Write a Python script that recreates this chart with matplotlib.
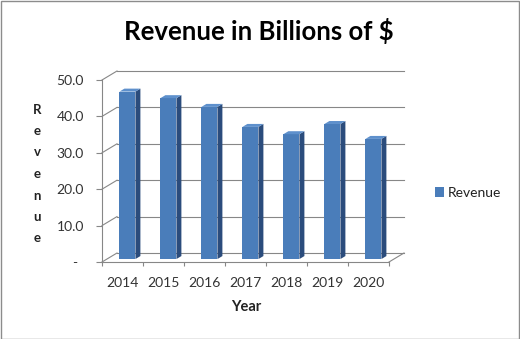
import matplotlib
matplotlib.use('Agg')
import matplotlib.pyplot as plt
import matplotlib.patches as patches
from matplotlib.patches import Polygon
from matplotlib.lines import Line2D

plt.rcParams['font.family'] = ['Lato', 'DejaVu Sans']

# 数据
years = ['2014', '2015', '2016', '2017', '2018', '2019', '2020']
revenue = [46.0, 44.2, 41.8, 36.3, 34.3, 37.1, 33.0]
y_ticks = [0, 10, 20, 30, 40, 50]
y_tick_labels = ['-', '10.0', '20.0', '30.0', '40.0', '50.0']

W, H = 520, 339
fig = plt.figure(figsize=(W / 100, H / 100), dpi=100)
fig.patch.set_facecolor('white')

# 绘图区（前平面）
x0, x1, ytop, ybot = 102, 389, 80, 262
ax = fig.add_axes([x0 / W, 1 - ybot / H, (x1 - x0) / W, (ybot - ytop) / H])
ax.set_xlim(-0.5, len(years) - 0.5)
ax.set_ylim(0, 50)
ax.patch.set_alpha(0)

# 3D 深度偏移（数据单位）
px_x = (x1 - x0) / len(years)
px_y = (ybot - ytop) / 50
DX = 15 / px_x
DY = 9 / px_y
grid_c = '#878787'
lw = 0.8

n = len(years)
for v in y_ticks:
    # 后墙网格线
    ax.add_line(Line2D([-0.5 + DX, n - 0.5 + DX], [v + DY, v + DY], color=grid_c,
                       lw=lw, clip_on=False, zorder=1))
    # 左墙斜线
    ax.add_line(Line2D([-0.5, -0.5 + DX], [v, v + DY], color=grid_c, lw=lw,
                       clip_on=False, zorder=1))
# 底面右侧斜线
ax.add_line(Line2D([n - 0.5, n - 0.5 + DX], [0, DY], color=grid_c, lw=lw,
                   clip_on=False, zorder=1))

# 柱子
f0, f1 = 0.33, 0.66
bw = 0.39
xs = list(range(n))
front_c, side_c, top_c = '#4A7DBA', '#2B4C7C', '#5E90CC'
ax.bar([x + f0 * DX for x in xs], revenue, bottom=f0 * DY, width=bw,
       color=front_c, edgecolor='none', zorder=3)
for x, v in zip(xs, revenue):
    l = x + f0 * DX - bw / 2
    r = x + f0 * DX + bw / 2
    b = f0 * DY
    t = v + f0 * DY
    ddx = (f1 - f0) * DX
    ddy = (f1 - f0) * DY
    ax.add_patch(Polygon([(r, b), (r + ddx, b + ddy), (r + ddx, t + ddy), (r, t)],
                         closed=True, facecolor=side_c, edgecolor='none', zorder=3))
    ax.add_patch(Polygon([(l, t), (r, t), (r + ddx, t + ddy), (l + ddx, t + ddy)],
                         closed=True, facecolor=top_c, edgecolor='none', zorder=3))

# 坐标轴
for s in ['top', 'right']:
    ax.spines[s].set_visible(False)
for s in ['left', 'bottom']:
    ax.spines[s].set_color(grid_c)
    ax.spines[s].set_linewidth(lw)
ax.set_yticks(y_ticks)
ax.set_yticklabels(y_tick_labels)
ax.tick_params(axis='y', length=4, width=lw, color=grid_c, pad=9, labelsize=10,
               labelcolor='#333333')
# "-" 标签位置稍靠左（会计格式）
ax.get_yticklabels()[0].set_x(-0.025)
ax.set_xticks(xs)
ax.set_xticklabels(years)
ax.tick_params(axis='x', length=0, pad=11, labelsize=10, labelcolor='#333333')
ax.set_xticks([x - 0.5 for x in range(n + 1)], minor=True)
ax.tick_params(axis='x', which='minor', length=3, width=lw, color=grid_c)

# 标题与轴标签
fig.text(259 / W, 1 - 31 / H, 'Revenue in Billions of $', ha='center', va='center',
         fontsize=18.5, fontweight='bold', color='black')
fig.text(246 / W, 1 - 307 / H, 'Year', ha='center', va='center', fontsize=10.5,
         fontweight='bold', color='#222222')
fig.text(37 / W, 1 - 174 / H, '\n'.join('Revenue'), ha='center', va='center',
         fontsize=9.5, fontweight='bold', linespacing=1.95, color='#222222')

# 图例
handle = patches.Patch(facecolor=front_c, edgecolor='none', label='Revenue')
fig.legend(handles=[handle], loc='center left', bbox_to_anchor=(435 / W, 1 - 193 / H),
           frameon=False, borderpad=0, borderaxespad=0, handlelength=0.65,
           handleheight=0.65, handletextpad=0.3, fontsize=10, labelcolor='#222222')

# 外框
fig.patches.append(patches.Rectangle((0.5 / W, 0.5 / H), 1 - 1.5 / W, 1 - 1.5 / H,
                                     transform=fig.transFigure, fill=False,
                                     edgecolor='#8c8c8c', lw=1))

fig.savefig('out.png', dpi=100, facecolor='white')
